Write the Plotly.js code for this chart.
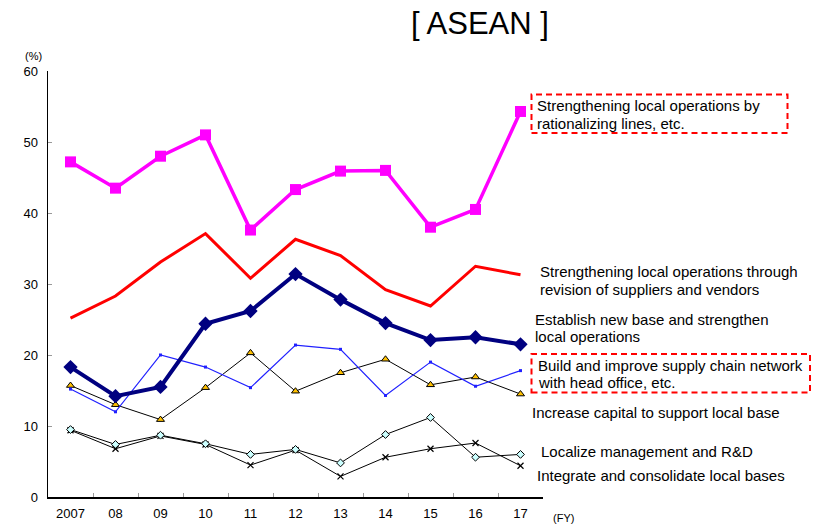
<!DOCTYPE html>
<html>
<head>
<meta charset="utf-8">
<script src="https://cdn.plot.ly/plotly-3.0.1.min.js"></script>
<style>
  html, body { margin: 0; padding: 0; background: #fff; }
  #chart { width: 816px; height: 529px; }
</style>
</head>
<body>
<div id="chart"></div>
<script>
// Fiscal years on the horizontal axis
const years = ["2007", "08", "09", "10", "11", "12", "13", "14", "15", "16", "17"];

// Share of companies (%) for each measure, FY2007–FY2017
const rationalizing = [47.2, 43.5, 48.0, 51.0, 37.6, 43.3, 45.9, 46.0, 38.0, 40.5, 54.3];
const suppliers     = [25.2, 28.3, 33.1, 37.1, 30.8, 36.3, 34.0, 29.2, 26.9, 32.5, 31.3];
const newBase       = [18.3, 14.2, 15.5, 24.4, 26.2, 31.4, 27.8, 24.5, 22.1, 22.5, 21.5];
const supplyChain   = [15.2, 12.0, 20.0, 18.3, 15.4, 21.4, 20.8, 14.3, 19.0, 15.6, 17.8];
const capital       = [15.7, 13.0, 10.9, 15.4, 20.3, 14.9, 17.5, 19.4, 15.8, 16.9, 14.5];
const localize      = [9.5, 7.4, 8.7, 7.5, 6.0, 6.7, 4.8, 8.8, 11.2, 5.6, 6.0];
const integrate     = [9.4, 6.8, 8.6, 7.4, 4.5, 6.6, 2.9, 5.6, 6.8, 7.6, 4.4];

// Label lines drawn to the right of the plot
const labelRationalizing = ["Strengthening local operations by", "rationalizing lines, etc."];
const labelSuppliers     = ["Strengthening local operations through", "revision of suppliers and vendors"];
const labelNewBase       = ["Establish new base and strengthen", "local operations"];
const labelSupplyChain   = ["Build and improve supply chain network", "with head office, etc."];
const labelCapital       = ["Increase capital to support local base"];
const labelLocalize      = ["Localize management and R&D"];
const labelIntegrate     = ["Integrate and consolidate local bases"];

const FONT = "Liberation Sans, Arial, sans-serif";

const traces = [
  { y: integrate, mode: "lines+markers",
    line: { color: "#000000", width: 1 },
    marker: { symbol: "x-thin", size: 6, line: { color: "#000000", width: 1.2 } } },
  { y: localize, mode: "lines+markers",
    line: { color: "#000000", width: 1 },
    marker: { symbol: "diamond", size: 6, color: "#ccffff", line: { color: "#000000", width: 1 } } },
  { y: capital, mode: "lines+markers",
    line: { color: "#000000", width: 1 },
    marker: { symbol: "triangle-up", size: 7, color: "#ffc000", line: { color: "#000000", width: 1 } } },
  { y: supplyChain, mode: "lines+markers",
    line: { color: "#2020ff", width: 1.2 },
    marker: { symbol: "square", size: 3, color: "#2020ff" } },
  { y: newBase, mode: "lines+markers",
    line: { color: "#000080", width: 4 },
    marker: { symbol: "diamond", size: 11, color: "#000080" } },
  { y: suppliers, mode: "lines",
    line: { color: "#ff0000", width: 3 } },
  { y: rationalizing, mode: "lines+markers",
    line: { color: "#ff00ff", width: 3.5 },
    marker: { symbol: "square", size: 11, color: "#ff00ff" } }
].map(t => Object.assign({ x: years, type: "scatter", hoverinfo: "skip" }, t));

// Plot area in pixels
const L = 48, R = 543, T = 71, B = 497;
const px = x => (x - L) / (R - L);
const py = y => (B - y) / (B - T);

const annotations = [];
function addLines(lines, left, firstY, step) {
  lines.forEach((s, i) => annotations.push({
    text: s, xref: "paper", yref: "paper",
    x: px(left), y: py(firstY + i * step),
    xanchor: "left", yanchor: "middle", showarrow: false,
    font: { family: FONT, size: 15, color: "#000" }
  }));
}
addLines(labelRationalizing, 535, 106, 17.5);
addLines(labelSuppliers, 538, 271.5, 17.5);
addLines(labelNewBase, 532.5, 319, 17.5);
addLines(labelSupplyChain, 535.5, 365, 17.5);
addLines(labelCapital, 530, 412.5, 17.5);
addLines(labelLocalize, 538.5, 451.5, 17.5);
addLines(labelIntegrate, 534.5, 475, 17.5);

annotations.push({
  text: "(%)", xref: "paper", yref: "paper", x: px(33), y: py(56),
  xanchor: "center", yanchor: "middle", showarrow: false,
  font: { family: FONT, size: 11, color: "#000" }
});
annotations.push({
  text: "(FY)", xref: "paper", yref: "paper", x: px(563), y: py(518),
  xanchor: "center", yanchor: "middle", showarrow: false,
  font: { family: FONT, size: 11, color: "#000" }
});

// Dashed highlight frames round two of the labels
const frame = (x0, y0, x1, y1) => ({
  type: "rect", xref: "paper", yref: "paper",
  x0: px(x0), x1: px(x1), y0: py(y1), y1: py(y0),
  line: { color: "#ff0000", width: 2, dash: "6px,4px" },
  fillcolor: "rgba(0,0,0,0)"
});

const layout = {
  width: 816, height: 529,
  margin: { l: L, r: 816 - R, t: T, b: 529 - B, pad: 0 },
  paper_bgcolor: "#ffffff", plot_bgcolor: "#ffffff",
  showlegend: false,
  font: { family: FONT, color: "#000" },
  title: {
    text: "[ ASEAN ]", x: 480 / 816, xanchor: "center",
    y: 1 - 23 / 529, yanchor: "middle", yref: "container",
    font: { family: FONT, size: 31, color: "#000" }
  },
  xaxis: {
    type: "category", categoryorder: "array", categoryarray: years,
    range: [-0.5, 10.5], showgrid: false, zeroline: false,
    showline: true, linecolor: "#000", linewidth: 1.5,
    ticks: "inside", tickson: "boundaries", ticklen: 4, tickcolor: "#999",
    tickfont: { family: FONT, size: 13, color: "#000" },
    ticklabelstandoff: 4
  },
  yaxis: {
    range: [0, 60], dtick: 10, showgrid: false, zeroline: false,
    showline: true, linecolor: "#000", linewidth: 1.5,
    ticks: "inside", ticklen: 4, tickcolor: "#999",
    tickfont: { family: FONT, size: 13, color: "#000" },
    ticklabelstandoff: 6
  },
  annotations: annotations,
  shapes: [frame(531.5, 94.5, 787.5, 133), frame(531.5, 354, 810, 392.5)]
};

Plotly.newPlot("chart", traces, layout, { staticPlot: true, displayModeBar: false });
</script>
</body>
</html>
